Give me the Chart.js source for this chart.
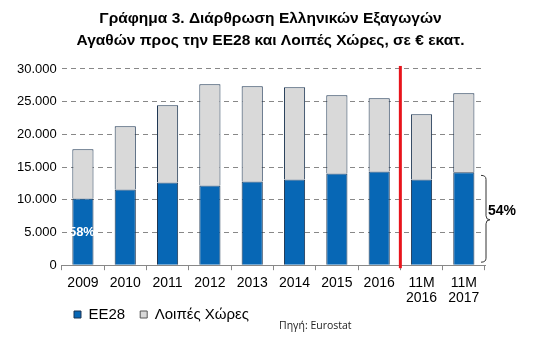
<!DOCTYPE html>
<html><head><meta charset="utf-8">
<script src="https://cdn.jsdelivr.net/npm/chart.js@4"></script>
<style>html,body{margin:0;padding:0;background:#fff}#w{width:551px;height:358px}</style>
</head><body><div id="w"><canvas id="c"></canvas></div>
<script>
const categories = [['2009'],['2010'],['2011'],['2012'],['2013'],['2014'],['2015'],['2016'],['11M','2016'],['11M','2017']];
const eu28 = [10210, 11590, 12650, 12200, 12810, 13110, 14030, 14340, 13110, 14190];
const otherCountries = [7500, 9640, 11790, 15450, 14540, 14090, 11940, 11170, 9950, 12090];
const yTicks = [0, 5000, 10000, 15000, 20000, 25000, 30000];
const titleLines = ['Γράφημα 3. Διάρθρωση Ελληνικών Εξαγωγών', 'Αγαθών προς την ΕΕ28 και Λοιπές Χώρες, σε € εκατ.'];
const seriesNames = ['ΕΕ28', 'Λοιπές Χώρες'];
const shareFirst = '58%';
const shareLast = '54%';
const sourceText = 'Πηγή: Eurostat';

const extras = {
  id: 'extras',
  afterLayout(chart) {
    const lg = chart.legend;
    if (lg) { lg.left += 47; lg.right += 47; lg.top -= 19; lg.bottom -= 19; }
    const t = chart.titleBlock;
    if (t) { t.left += 22; t.right += 22; }
  },
  afterDatasetsDraw(chart) {
    const {ctx, scales:{x, y}, chartArea} = chart;
    ctx.save();
    // red divider between 2016 and 11M 2016
    const xr = (x.getPixelForValue(7) + x.getPixelForValue(8)) / 2;
    ctx.strokeStyle = '#e8141c'; ctx.lineWidth = 3;
    ctx.beginPath(); ctx.moveTo(xr, chartArea.top - 3); ctx.lineTo(xr, chartArea.bottom + 3); ctx.stroke();
    // 58% label inside first bar
    ctx.fillStyle = '#fff'; ctx.font = 'bold 13px "Liberation Sans", Arial';
    ctx.textAlign = 'center'; ctx.textBaseline = 'middle';
    ctx.fillText(shareFirst, x.getPixelForValue(0) - 1, y.getPixelForValue(5000));
    // brace on the right for last bar's EU share
    const bx = chartArea.right + 1;
    const yt = y.getPixelForValue(eu28[9]) + 3, yb = y.getPixelForValue(0) - 3;
    const ym = (yt + yb) / 2 + 1;
    ctx.strokeStyle = '#333'; ctx.lineWidth = 1;
    ctx.beginPath();
    ctx.moveTo(bx - 5, yt); ctx.quadraticCurveTo(bx, yt, bx, yt + 4);
    ctx.lineTo(bx, ym - 4); ctx.quadraticCurveTo(bx, ym, bx + 4, ym);
    ctx.quadraticCurveTo(bx, ym, bx, ym + 4);
    ctx.lineTo(bx, yb - 4); ctx.quadraticCurveTo(bx, yb, bx - 5, yb);
    ctx.stroke();
    ctx.fillStyle = '#000'; ctx.font = 'bold 14px "Liberation Sans", Arial';
    ctx.textAlign = 'left';
    ctx.fillText(shareLast, bx + 2, ym - 9);
    // source
    ctx.font = '10.5px "Open Sans", sans-serif';
    ctx.fillStyle = '#222';
    ctx.fillText(sourceText, 279, 326);
    ctx.restore();
  }
};

new Chart(document.getElementById('c'), {
  type: 'bar',
  data: {
    labels: categories,
    datasets: [
      {label: seriesNames[0], data: eu28, backgroundColor: '#0767b5', borderColor: '#1d3552', borderWidth: 1, barPercentage: 0.5, categoryPercentage: 1},
      {label: seriesNames[1], data: otherCountries, backgroundColor: '#d9d9d9', borderColor: '#1d3552', borderWidth: 1, barPercentage: 0.5, categoryPercentage: 1}
    ]
  },
  options: {
    responsive: true, maintainAspectRatio: false, animation: false,
    layout: {padding: {left: 12, right: 66, top: 0, bottom: 7}},
    plugins: {
      title: {display: true, text: titleLines, color: '#000', font: {family: '"Liberation Sans", Arial', size: 15.5, weight: 'bold', lineHeight: 1.45}, padding: {top: 7, bottom: 17}},
      legend: {position: 'bottom', align: 'start',
        labels: {color: '#000', font: {family: '"Liberation Sans", Arial', size: 15}, boxWidth: 7, boxHeight: 7, padding: 15,
          generateLabels(chart) {
            return chart.data.datasets.map((d, i) => ({text: d.label, fillStyle: d.backgroundColor, strokeStyle: i === 0 ? '#1d3552' : '#555', lineWidth: 1, datasetIndex: i}));
          }}},
      tooltip: {enabled: false}
    },
    scales: {
      x: {stacked: true,
        grid: {display: true, drawOnChartArea: false, drawTicks: true, tickLength: 5, color: '#888', offset: true},
        border: {display: true, color: '#888'},
        ticks: {color: '#000', font: {family: '"Liberation Sans", Arial', size: 14, lineHeight: 1.1}, maxRotation: 0, padding: 5}},
      y: {stacked: true, min: 0, max: 30000,
        afterBuildTicks(axis) { axis.ticks = yTicks.map(v => ({value: v})); },
        grid: {color: '#888', drawTicks: false},
        border: {display: true, color: 'rgba(0,0,0,0)', dash: [5, 4]},
        ticks: {color: '#000', font: {family: '"Liberation Sans", Arial', size: 13}, padding: 5,
          callback: v => v.toLocaleString('de-DE')}}
    }
  },
  plugins: [extras]
});
</script></body></html>
